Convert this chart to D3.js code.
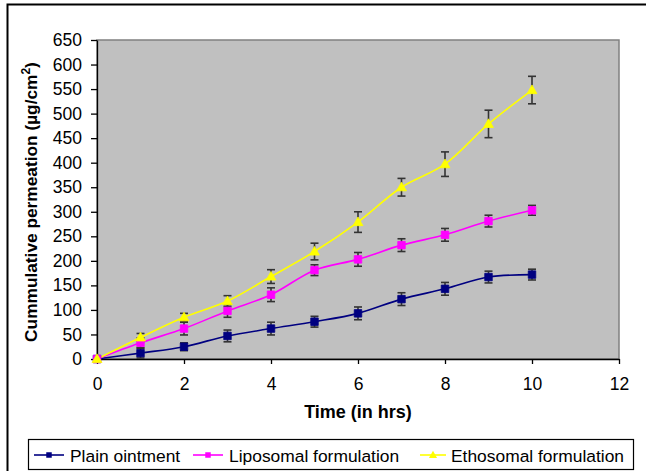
<!DOCTYPE html>
<html>
<head>
<meta charset="utf-8">
<script src="https://cdn.jsdelivr.net/npm/d3@7"></script>
<style>
  body { margin: 0; background: #fff; }
  svg { font-family: "Liberation Sans", Arial, sans-serif; }
</style>
</head>
<body>
<div id="chart"></div>
<script>
// values
const hours = [0, 1, 2, 3, 4, 5, 6, 7, 8, 9, 10];
const plainOintment = [0, 12, 25, 47, 62, 76, 93, 122, 143, 167, 172];
const plainErr = [0, 10, 8, 12, 13, 11, 13, 13, 13, 12, 11];
const liposomal = [0, 33, 62, 98, 131, 181, 203, 232, 253, 281, 303];
const liposomalErr = [0, 10, 13, 13, 14, 11, 14, 13, 13, 12, 10];
const ethosomal = [0, 44, 85, 118, 168, 219, 279, 350, 397, 479, 548];
const ethosomalErr = [0, 8, 8, 11, 14, 17, 21, 18, 25, 28, 28];
const seriesNames = ["Plain ointment", "Liposomal formulation", "Ethosomal formulation"];
const xTicks = [0, 2, 4, 6, 8, 10, 12];
const yTicks = d3.range(0, 651, 50);

const width = 646, height = 471;
const plot = {left: 97, top: 40, right: 619, bottom: 359};

const series = [
    {name: seriesNames[0], values: plainOintment, err: plainErr, color: "#000080", shape: "square"},
    {name: seriesNames[1], values: liposomal, err: liposomalErr, color: "#FF00FF", shape: "square"},
    {name: seriesNames[2], values: ethosomal, err: ethosomalErr, color: "#FFFF00", shape: "triangle"}
];

const x = d3.scaleLinear().domain([0, 12]).range([plot.left, plot.right]);
const y = d3.scaleLinear().domain([0, 650]).range([plot.bottom, plot.top]);

const svg = d3.select("#chart")
    .append("svg")
    .attr("width", width)
    .attr("height", height);

// outer chart border
svg.append("rect")
    .attr("x", 7.5).attr("y", 4.5)
    .attr("width", 660).attr("height", 490)
    .attr("fill", "#fff")
    .attr("stroke", "#000")
    .attr("stroke-width", 2);

// plot area
svg.append("rect")
    .attr("x", plot.left).attr("y", plot.top)
    .attr("width", plot.right - plot.left)
    .attr("height", plot.bottom - plot.top)
    .attr("fill", "#C0C0C0")
    .attr("stroke", "#808080")
    .attr("stroke-width", 1.5);

// axes
const yAxis = svg.append("g")
    .attr("transform", "translate(" + plot.left + ",0)")
    .call(d3.axisLeft(y).tickValues(yTicks).tickSize(6).tickPadding(9).tickSizeOuter(0));
yAxis.selectAll("text").attr("font-size", 17.5).attr("fill", "#000");

const xAxis = svg.append("g")
    .attr("transform", "translate(0," + plot.bottom + ")")
    .call(d3.axisBottom(x).tickValues(xTicks).tickSize(5).tickPadding(14).tickSizeOuter(0));
xAxis.selectAll("text").attr("font-size", 17.5).attr("fill", "#000");

svg.selectAll(".domain, .tick line").attr("stroke", "#000").attr("stroke-width", 1.3);

// axis titles
svg.append("text")
    .attr("x", (plot.left + plot.right) / 2)
    .attr("y", 418)
    .attr("text-anchor", "middle")
    .attr("font-size", 18)
    .attr("font-weight", "bold")
    .text("Time (in hrs)");

const yTitle = svg.append("text")
    .attr("transform", "translate(37,202)rotate(-90)")
    .attr("text-anchor", "middle")
    .attr("font-size", 17.3)
    .attr("font-weight", "bold");
yTitle.append("tspan").text("Cummulative permeation (µg/cm");
yTitle.append("tspan").attr("baseline-shift", "super").attr("font-size", 12).text("2");
yTitle.append("tspan").text(")");

const line = d3.line()
    .curve(d3.curveCatmullRom.alpha(0.5))
    .x(function(d) { return x(d[0]); })
    .y(function(d) { return y(d[1]); });

const symbolPath = function(shape, size) {
    if (shape === "triangle") {
        return "M0," + (-size * 0.6) + "L" + (size * 0.58) + "," + (size * 0.42) + "L" + (-size * 0.58) + "," + (size * 0.42) + "Z";
    }
    const h = size / 2;
    return "M" + (-h) + "," + (-h) + "H" + h + "V" + h + "H" + (-h) + "Z";
};

series.forEach(function(s) {
    const pts = hours.map(function(h, i) { return [h, s.values[i]]; });

    svg.append("path")
        .datum(pts)
        .attr("fill", "none")
        .attr("stroke", s.color)
        .attr("stroke-width", 1.6)
        .attr("d", line);

    const bars = svg.append("g")
        .attr("stroke", "#333")
        .attr("stroke-width", 1.6)
        .selectAll("g")
        .data(hours.filter(function(h, i) { return s.err[i] > 0; }))
        .enter().append("g");

    bars.append("line")
        .attr("x1", function(h) { return x(h); })
        .attr("x2", function(h) { return x(h); })
        .attr("y1", function(h) { return y(s.values[h] - s.err[h]); })
        .attr("y2", function(h) { return y(s.values[h] + s.err[h]); });
    [-1, 1].forEach(function(sign) {
        bars.append("line")
            .attr("x1", function(h) { return x(h) - 4; })
            .attr("x2", function(h) { return x(h) + 4; })
            .attr("y1", function(h) { return y(s.values[h] + sign * s.err[h]); })
            .attr("y2", function(h) { return y(s.values[h] + sign * s.err[h]); });
    });
});

// markers on top
series.forEach(function(s) {
    svg.append("g").selectAll("path")
        .data(hours)
        .enter().append("path")
        .attr("transform", function(h, i) { return "translate(" + x(h) + "," + y(s.values[i]) + ")"; })
        .attr("d", symbolPath(s.shape, s.shape === "triangle" ? 8.5 : 7.5))
        .attr("fill", s.color)
        .attr("stroke", s.color)
        .attr("stroke-width", 0.8);
});

// legend
const legend = svg.append("g");
legend.append("rect")
    .attr("x", 28.5).attr("y", 439.5)
    .attr("width", 605).attr("height", 30)
    .attr("fill", "#fff")
    .attr("stroke", "#000")
    .attr("stroke-width", 1.2);

const legendItems = [
    {x0: 34, x1: 64, tx: 70},
    {x0: 193, x1: 223, tx: 229},
    {x0: 420, x1: 446, tx: 451}
];

series.forEach(function(s, i) {
    const it = legendItems[i];
    const g = legend.append("g");
    g.append("line")
        .attr("x1", it.x0).attr("x2", it.x1)
        .attr("y1", 455).attr("y2", 455)
        .attr("stroke", s.color)
        .attr("stroke-width", 1.6);
    g.append("path")
        .attr("transform", "translate(" + ((it.x0 + it.x1) / 2) + ",455)")
        .attr("d", symbolPath(s.shape, s.shape === "triangle" ? 7 : 5.5))
        .attr("fill", s.color);
    g.append("text")
        .attr("x", it.tx)
        .attr("y", 461.5)
        .attr("font-size", 17.4)
        .text(s.name);
});
</script>
</body>
</html>
